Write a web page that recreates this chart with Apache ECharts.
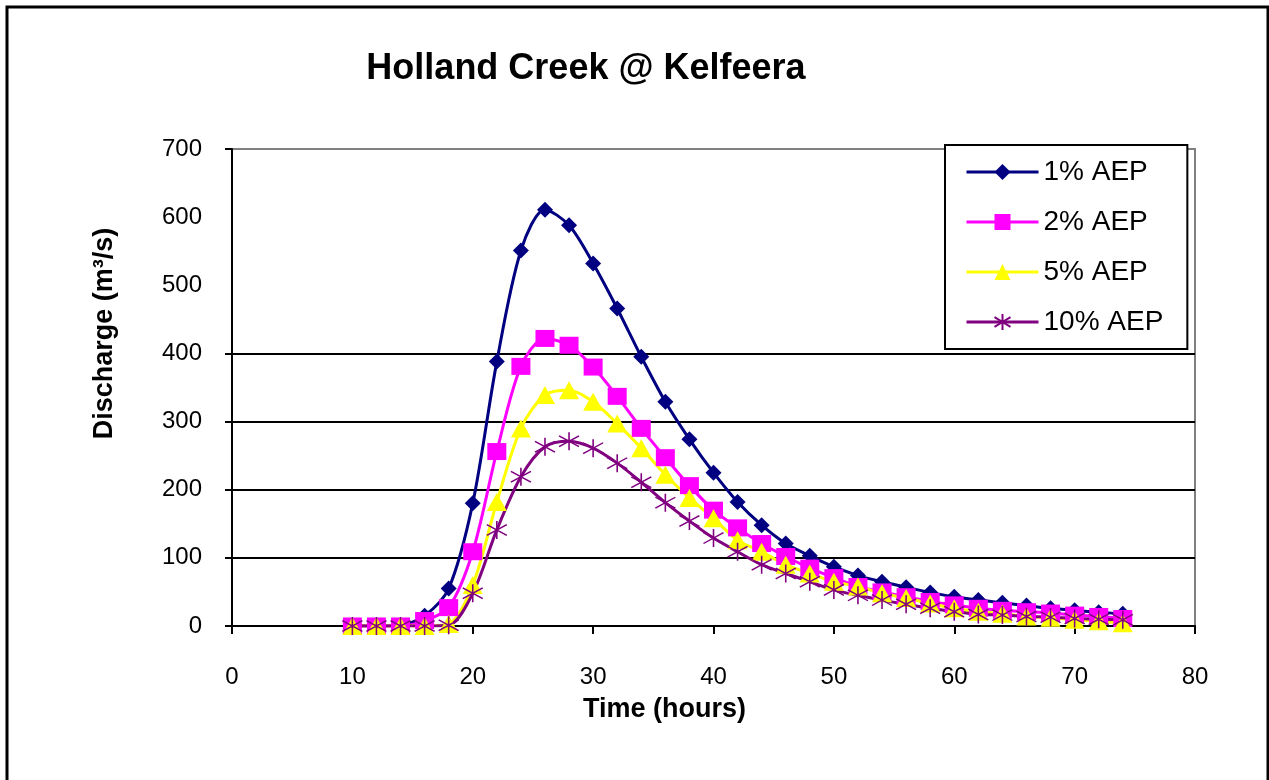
<!DOCTYPE html>
<html>
<head>
<meta charset="utf-8">
<title>Holland Creek @ Kelfeera</title>
<script src="https://cdn.jsdelivr.net/npm/echarts@6/dist/echarts.min.js"></script>
<style>
  html, body { margin: 0; padding: 0; background: #fff; }
  #chart { width: 1269px; height: 780px; }
</style>
</head>
<body>
<div id="chart"></div>
<script>
// Hydrograph times (hours) and discharge (m3/s) for each design event
const hours = [10, 12, 14, 16, 18, 20, 22, 24, 26, 28, 30, 32, 34, 36, 38, 40, 42,
               44, 46, 48, 50, 52, 54, 56, 58, 60, 62, 64, 66, 68, 70, 72, 74];

const aep1  = [0, 0, 1, 15, 55, 180, 388, 551, 611, 588, 532, 466, 395, 329, 274, 225, 182,
               148, 121, 103, 87, 74, 65, 57, 49, 43, 38, 34, 30, 26, 23, 20, 18];
const aep2  = [0, 0, 0, 8, 27, 109, 256, 381, 422, 412, 380, 337, 290, 247, 206, 170, 144,
               121, 102, 85, 71, 58, 50, 43, 36, 31, 26, 23, 21, 19, 16, 14, 11];
const aep5  = [0, 0, 0, 0, 3, 60, 182, 290, 339, 346, 329, 297, 261, 222, 188, 158, 126,
               109, 90, 77, 65, 58, 48, 41, 33, 26, 21, 18, 14, 12, 9, 7, 4];
const aep10 = [0, 0, 0, 0, 1, 48, 141, 219, 263, 271, 261, 239, 211, 181, 154, 129, 109,
               90, 77, 65, 53, 45, 38, 32, 26, 21, 17, 16, 14, 13, 11, 10, 9];

const seriesNames = ['1% AEP', '2% AEP', '5% AEP', '10% AEP'];
const xTicks = { min: 0, max: 80, step: 10 };
const yTicks = { min: 0, max: 700, step: 100 };

const FONT = '"Liberation Sans", Arial, Helvetica, sans-serif';

function pairs(values) {
  return hours.map((h, i) => [h, values[i]]);
}

// six-armed star marker, stroked only
const asterisk = 'path://M10,0L10,20M1,4L19,16M1,16L19,4';

const chart = echarts.init(document.getElementById('chart'), null, { renderer: 'canvas' });

chart.setOption({
  animation: false,
  backgroundColor: '#fff',
  textStyle: { fontFamily: FONT },
  graphic: [
    {
      type: 'rect',
      z: 100,
      shape: { x: 7, y: 7, width: 1261, height: 800 },
      style: { fill: 'none', stroke: '#000', lineWidth: 3 },
      silent: true
    },
    {
      type: 'text',
      z: 100,
      style: {
        text: 'Holland Creek @ Kelfeera',
        x: 586, y: 69,
        textAlign: 'center', textVerticalAlign: 'middle',
        font: 'bold 36px ' + FONT,
        fill: '#000'
      }
    }
  ],
  legend: {
    orient: 'vertical',
    left: 945, top: 145,
    padding: [13, 24, 13, 20],
    itemWidth: 72, itemHeight: 20,
    itemGap: 22, itemTextGap: 11,
    borderColor: '#000', borderWidth: 2,
    backgroundColor: '#fff',
    lineStyle: { width: 3 },
    textStyle: { fontSize: 28, color: '#000', fontFamily: FONT },
    data: seriesNames
  },
  grid: {
    left: 232, right: 74, top: 149, bottom: 154,
    show: true, borderColor: '#808080', borderWidth: 2, backgroundColor: '#fff'
  },
  xAxis: {
    type: 'value',
    min: xTicks.min, max: xTicks.max, interval: xTicks.step,
    name: 'Time (hours)',
    nameLocation: 'middle', nameGap: 70,
    nameTextStyle: { fontSize: 27, fontWeight: 'bold', color: '#000', fontFamily: FONT,
                     padding: [0, 98, 0, 0] },
    axisLine: { lineStyle: { color: '#000', width: 2 } },
    axisTick: { inside: false, length: 8, lineStyle: { color: '#000', width: 2 } },
    axisLabel: { fontSize: 24, color: '#000', margin: 39, fontFamily: FONT },
    splitLine: { show: false }
  },
  yAxis: {
    type: 'value',
    min: yTicks.min, max: yTicks.max, interval: yTicks.step,
    name: 'Discharge (m\u00B3/s)',
    nameLocation: 'middle', nameGap: 114, nameRotate: 90,
    nameTextStyle: { fontSize: 27, fontWeight: 'bold', color: '#000', fontFamily: FONT,
                     padding: [0, 0, 0, 108] },
    axisLine: { lineStyle: { color: '#000', width: 2 } },
    axisTick: { inside: false, length: 7, lineStyle: { color: '#000', width: 2 },
                customValues: [0, 100, 200, 300, 400, 700] },
    axisLabel: { fontSize: 24, color: '#000', margin: 30, fontFamily: FONT },
    splitLine: {
      show: true,
      lineStyle: { width: 2, color: ['#000', '#000', '#000', '#000', '#000',
                                     'rgba(0,0,0,0)', 'rgba(0,0,0,0)', 'rgba(0,0,0,0)'] }
    }
  },
  series: [
    {
      name: seriesNames[0], type: 'line', data: pairs(aep1),
      smooth: 0.3, showAllSymbol: true,
      symbol: 'diamond', symbolSize: 16,
      lineStyle: { color: '#000080', width: 3 },
      itemStyle: { color: '#000080', borderWidth: 0 }
    },
    {
      name: seriesNames[1], type: 'line', data: pairs(aep2),
      smooth: 0.3, showAllSymbol: true,
      symbol: 'rect', symbolSize: [19, 17],
      lineStyle: { color: '#FF00FF', width: 3 },
      itemStyle: { color: '#FF00FF', borderWidth: 0 }
    },
    {
      name: seriesNames[2], type: 'line', data: pairs(aep5),
      smooth: 0.3, showAllSymbol: true,
      symbol: 'triangle', symbolSize: [20, 18],
      lineStyle: { color: '#FFFF00', width: 3 },
      itemStyle: { color: '#FFFF00', borderWidth: 0 }
    },
    {
      name: seriesNames[3], type: 'line', data: pairs(aep10),
      smooth: 0.3, showAllSymbol: true,
      symbol: asterisk, symbolSize: [20, 18],
      lineStyle: { color: '#800080', width: 3 },
      itemStyle: { color: '#800080', borderColor: '#800080', borderWidth: 1.5 }
    }
  ]
});
</script>
</body>
</html>
